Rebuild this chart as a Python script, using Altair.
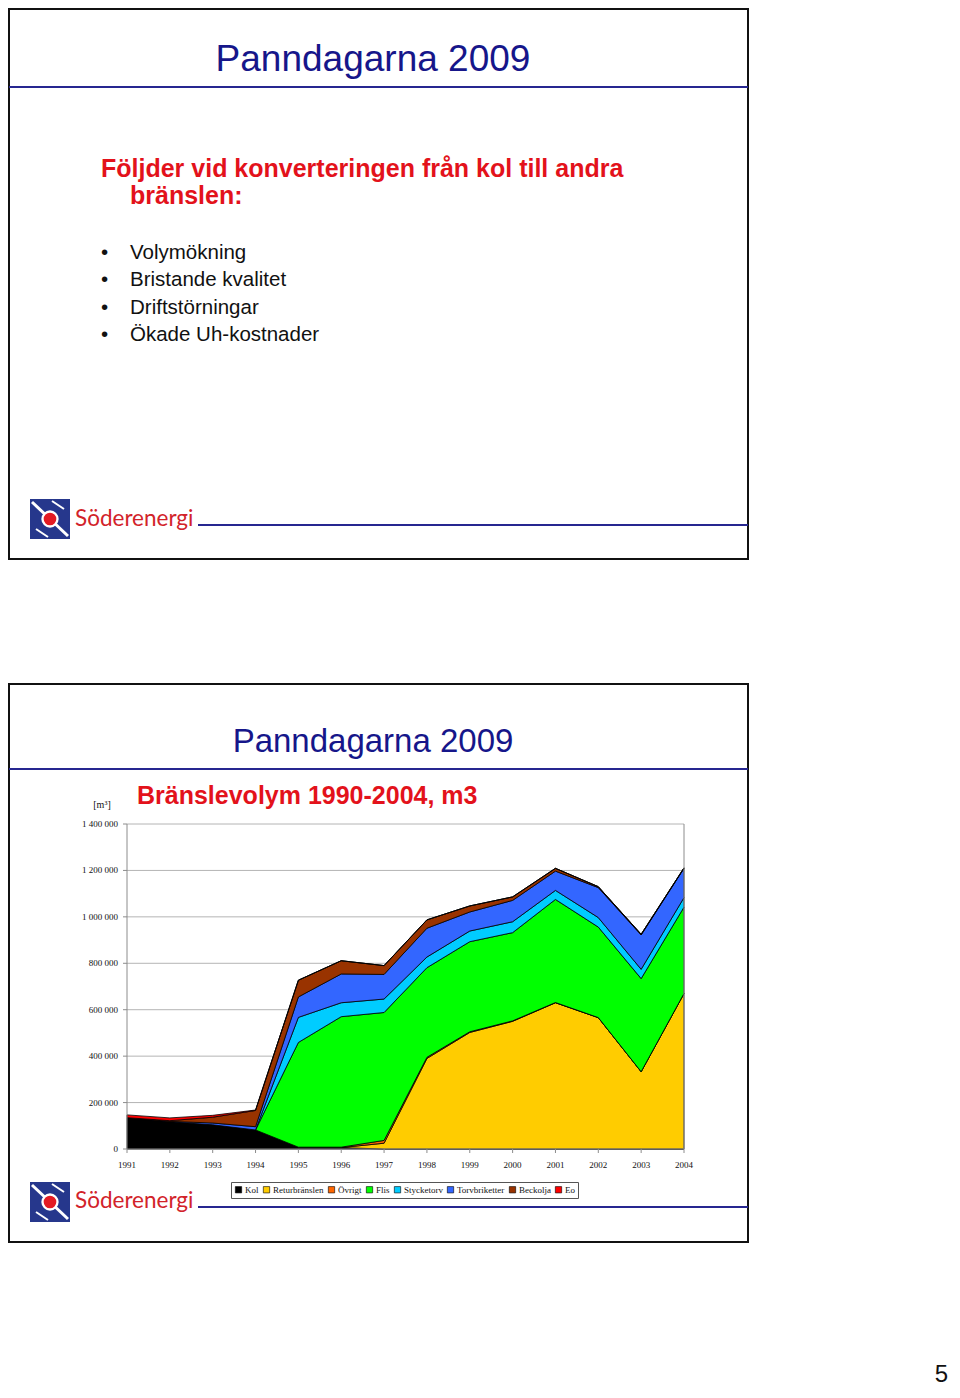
import altair as alt
import pandas as pd

# ---------------- data ----------------
years = list(range(1991, 2005))
fuels = ["Kol", "Returbränslen", "Övrigt", "Flis", "Stycketorv", "Torvbriketter", "Beckolja", "Eo"]
colors = ["#000000", "#FFCC00", "#FF6600", "#00FF00", "#00CCFF", "#3366FF", "#993300", "#FF0000"]

kol           = [135000, 117000, 104000, 82000, 8000, 6000, 0, 0, 0, 0, 0, 0, 0, 0]
returbranslen = [0, 0, 0, 0, 0, 0, 25000, 390000, 502000, 550000, 630000, 566000, 333000, 670000]
ovrigt        = [0, 0, 0, 0, 0, 2000, 12000, 5000, 3000, 2000, 1000, 0, 0, 0]
flis          = [0, 0, 0, 0, 451000, 562000, 551000, 386000, 388000, 380000, 444000, 390000, 401000, 372000]
stycketorv    = [0, 0, 0, 0, 108000, 60000, 58000, 46000, 46000, 47000, 39000, 41000, 40000, 41000]
torvbriketter = [0, 2000, 8000, 14000, 88000, 124000, 106000, 124000, 82000, 92000, 83000, 129000, 148000, 126000]
beckolja      = [0, 3000, 25000, 70000, 72000, 57000, 38000, 36000, 26000, 15000, 12000, 4000, 3000, 2000]
eo            = [12000, 12000, 8000, 2000, 0, 0, 0, 0, 0, 0, 0, 0, 0, 0]
series = [kol, returbranslen, ovrigt, flis, stycketorv, torvbriketter, beckolja, eo]

ytick_values = [0, 200000, 400000, 600000, 800000, 1000000, 1200000, 1400000]
ytick_labels = ["0", "200 000", "400 000", "600 000", "800 000", "1 000 000", "1 200 000", "1 400 000"]
xtick_labels = [str(y) for y in years]

slide_title = "Panndagarna 2009"
heading1 = "Följder vid konverteringen från kol till andra"
heading2 = "bränslen:"
bullets = ["Volymökning", "Bristande kvalitet", "Driftstörningar", "Ökade Uh-kostnader"]
chart_title = "Bränslevolym 1990-2004, m3"
unit_label = "[m³]"
logo_text = "Söderenergi"
page_no = "5"

rows = []
for i, (f, vals) in enumerate(zip(fuels, series)):
    for y, v in zip(years, vals):
        rows.append({"year": y, "fuel": f, "value": v, "idx": i})
df = pd.DataFrame(rows)
grid_df = pd.DataFrame({"v": ytick_values, "lab": ytick_labels})
year_df = pd.DataFrame({"year": years, "lab": xtick_labels})
one = pd.DataFrame({"a": [1]})

# ---------------- layout / style ----------------
W, H = 944, 1382
SANS = "Liberation Sans"
SERIF = "Liberation Serif"
LOGO_FONT = "Lato"
NAVY = "#16168A"
LINE_NAVY = "#262690"
RED = "#E3121B"
LOGO_RED = "#D2232A"
GRID = "#B4B4B4"

xs = alt.Scale(domain=[1991, 2004], range=[119, 676], nice=False, zero=False)
ys = alt.Scale(domain=[0, 1400000], range=[1141, 816], nice=False, zero=False)


def text(t, x, y, size, color="#111111", font=SANS, weight="normal", align="left"):
    return alt.Chart(one).mark_text(
        text=t, align=align, baseline="alphabetic", fontSize=size,
        font=font, fontWeight=weight, color=color
    ).encode(x=alt.value(x), y=alt.value(y))


def rule(x, x2, y, y2, color, width):
    return alt.Chart(one).mark_rule(color=color, strokeWidth=width).encode(
        x=alt.value(x), x2=alt.value(x2), y=alt.value(y), y2=alt.value(y2))


def frame(x, x2, y, y2):
    return alt.Chart(one).mark_rect(fillOpacity=0, stroke="#111111", strokeWidth=2).encode(
        x=alt.value(x), x2=alt.value(x2), y=alt.value(y), y2=alt.value(y2))


def logo(top, line_y):
    parts = [
        alt.Chart(one).mark_rect(color="#26378C").encode(
            x=alt.value(22), x2=alt.value(62), y=alt.value(top), y2=alt.value(top + 40)),
        rule(24, 60, top + 3, top + 37, "white", 3),
        rule(28, 40, top + 30, top + 38, "white", 2),
        rule(44, 56, top + 2, top + 10, "white", 2),
        alt.Chart(one).mark_circle(color="white", size=300, opacity=1).encode(
            x=alt.value(42), y=alt.value(top + 20)),
        alt.Chart(one).mark_circle(color="#E31B23", size=160, opacity=1).encode(
            x=alt.value(42), y=alt.value(top + 20)),
        text(logo_text, 67, line_y + 1, 22.5, LOGO_RED, LOGO_FONT),
        rule(190, 740, line_y, line_y, LINE_NAVY, 2),
    ]
    return parts


layers = []

# ---- slide 1 ----
layers.append(frame(1, 740, 1, 551))
layers.append(text(slide_title, 365, 63, 37, NAVY, align="center"))
layers.append(rule(1, 740, 79, 79, LINE_NAVY, 2))
layers.append(text(heading1, 93, 169, 25, RED, weight="bold"))
layers.append(text(heading2, 122, 196, 25, RED, weight="bold"))
for i, b in enumerate(bullets):
    yb = 251 + i * 27.4
    layers.append(text("•", 93, yb, 20.5))
    layers.append(text(b, 122, yb, 20.5))
layers += logo(491, 517)

# ---- slide 2 ----
layers.append(frame(1, 740, 676, 1234))
layers.append(text(slide_title, 365, 744, 33, NAVY, align="center"))
layers.append(rule(1, 740, 761, 761, LINE_NAVY, 2))
layers.append(text(chart_title, 129, 796, 25, RED, weight="bold"))
layers.append(text(unit_label, 94, 800, 10, "#111111", SERIF, align="center"))

# gridlines
layers.append(
    alt.Chart(grid_df).mark_rule(color=GRID, strokeWidth=1).encode(
        y=alt.Y("v:Q", scale=ys, axis=None), x=alt.value(119), x2=alt.value(676))
)

# stacked areas
layers.append(
    alt.Chart(df).mark_area(stroke="black", strokeWidth=0.8, opacity=1, interpolate="linear").encode(
        x=alt.X("year:Q", scale=xs, axis=None),
        y=alt.Y("value:Q", stack="zero", scale=ys, axis=None),
        color=alt.Color(
            "fuel:N",
            scale=alt.Scale(domain=fuels, range=colors),
            sort=fuels,
            legend=alt.Legend(
                orient="none", legendX=223, legendY=1174, direction="horizontal",
                title=None, symbolType="square", symbolSize=40,
                symbolStrokeColor="black", symbolStrokeWidth=0.6, symbolOpacity=1,
                labelFont=SERIF, labelFontSize=9, labelColor="#111111",
                labelOffset=2, columnPadding=3, padding=3,
                strokeColor="#555555", fillColor="white",
            ),
        ),
        order=alt.Order("idx:Q", sort="ascending"),
    )
)

# axis lines and right border
layers.append(
    alt.Chart(one).mark_rule(color="#8C8C8C", strokeWidth=1).encode(
        x=alt.X(datum=1991, type="quantitative", scale=xs, axis=None),
        y=alt.Y(datum=0, type="quantitative", scale=ys, axis=None),
        y2=alt.datum(1400000))
)
layers.append(
    alt.Chart(one).mark_rule(color="#8C8C8C", strokeWidth=1).encode(
        x=alt.X(datum=2004, type="quantitative", scale=xs, axis=None),
        y=alt.Y(datum=0, type="quantitative", scale=ys, axis=None),
        y2=alt.datum(1400000))
)
layers.append(
    alt.Chart(one).mark_rule(color="#8C8C8C", strokeWidth=1).encode(
        x=alt.X(datum=1991, type="quantitative", scale=xs, axis=None),
        x2=alt.datum(2004),
        y=alt.Y(datum=0, type="quantitative", scale=ys, axis=None))
)
# ticks
layers.append(
    alt.Chart(grid_df).mark_rule(color="#8C8C8C", strokeWidth=1).encode(
        y=alt.Y("v:Q", scale=ys, axis=None), x=alt.value(115), x2=alt.value(119))
)
layers.append(
    alt.Chart(year_df).mark_rule(color="#8C8C8C", strokeWidth=1).encode(
        x=alt.X("year:Q", scale=xs, axis=None), y=alt.value(1141), y2=alt.value(1145))
)
# tick labels
layers.append(
    alt.Chart(grid_df).mark_text(align="right", baseline="middle", font=SERIF, fontSize=9, color="#111111").encode(
        y=alt.Y("v:Q", scale=ys, axis=None), x=alt.value(110), text="lab:N")
)
layers.append(
    alt.Chart(year_df).mark_text(align="center", baseline="middle", font=SERIF, fontSize=9, color="#111111").encode(
        x=alt.X("year:Q", scale=xs, axis=None), y=alt.value(1157), text="lab:N")
)

layers += logo(1174, 1199)

# page number
layers.append(text(page_no, 940, 1374, 24, "#111111", align="right"))

chart = alt.layer(*layers).properties(
    width=W, height=H,
    autosize=alt.AutoSizeParams(type="none"),
    padding=0,
).configure_view(strokeWidth=0)

chart.save("out.html", embed_options={"renderer": "svg", "actions": False})
